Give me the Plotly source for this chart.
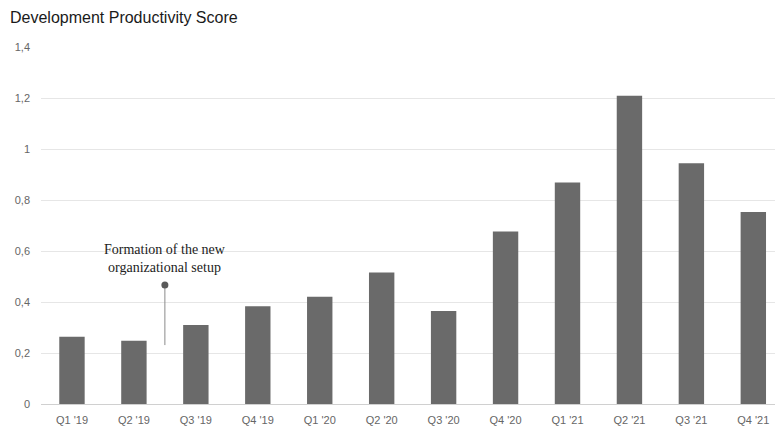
import plotly.graph_objects as go

categories = ["Q1 '19", "Q2 '19", "Q3 '19", "Q4 '19",
              "Q1 '20", "Q2 '20", "Q3 '20", "Q4 '20",
              "Q1 '21", "Q2 '21", "Q3 '21", "Q4 '21"]
scores = [0.264, 0.248, 0.31, 0.383, 0.421, 0.516, 0.365, 0.676, 0.869, 1.209, 0.944, 0.753]
y_ticks = [0, 0.2, 0.4, 0.6, 0.8, 1.0, 1.2, 1.4]

# annotation: between Q2 '19 and Q3 '19
annot_pos = 1.5
annot_dot_y = 0.467
annot_line_bottom = 0.231
annot_text = "Formation of the new<br>organizational setup"

fig = go.Figure()
fig.add_trace(go.Bar(
    x=list(range(len(categories))), y=scores,
    marker=dict(color="#6a6a6a", line=dict(width=0)),
    width=0.41, hoverinfo="skip", showlegend=False,
))
fig.add_trace(go.Scatter(
    x=[annot_pos, annot_pos], y=[annot_line_bottom, annot_dot_y],
    mode="lines", line=dict(color="#8a8a8a", width=1),
    hoverinfo="skip", showlegend=False,
))
fig.add_trace(go.Scatter(
    x=[annot_pos], y=[annot_dot_y],
    mode="markers", marker=dict(color="#5a5a5a", size=7),
    hoverinfo="skip", showlegend=False,
))
fig.add_annotation(
    x=annot_pos, y=annot_dot_y, yshift=26, xref="x", yref="y",
    text=annot_text, showarrow=False,
    font=dict(family="Liberation Serif", size=14, color="#222222"),
    align="center",
)

fig.update_layout(
    width=775, height=427,
    margin=dict(l=40.5, r=0, t=47, b=23),
    paper_bgcolor="white", plot_bgcolor="white",
    separators=",.",
    title=dict(text="Development Productivity Score", x=10/775, xanchor="left",
               y=1-17/427, yanchor="middle",
               font=dict(family="Liberation Sans", size=16, color="#1a1a1a")),
    xaxis=dict(
        tickmode="array", tickvals=list(range(len(categories))), ticktext=categories,
        range=[-0.5, 11.35], showgrid=False, zeroline=False, showline=False,
        tickfont=dict(family="Liberation Sans", size=11, color="#666666"),
        ticks="", ticklen=0, ticklabelstandoff=8,
    ),
    yaxis=dict(
        range=[0, 1.4], tickvals=y_ticks, tickformat=".1~f",
        showgrid=True, gridcolor="#e6e6e6", gridwidth=1,
        zeroline=True, zerolinecolor="#d0d0d0", zerolinewidth=1,
        tickfont=dict(family="Liberation Sans", size=11, color="#666666"),
        ticks="", ticklabelstandoff=10,
    ),
)

fig.write_html("out.html")
